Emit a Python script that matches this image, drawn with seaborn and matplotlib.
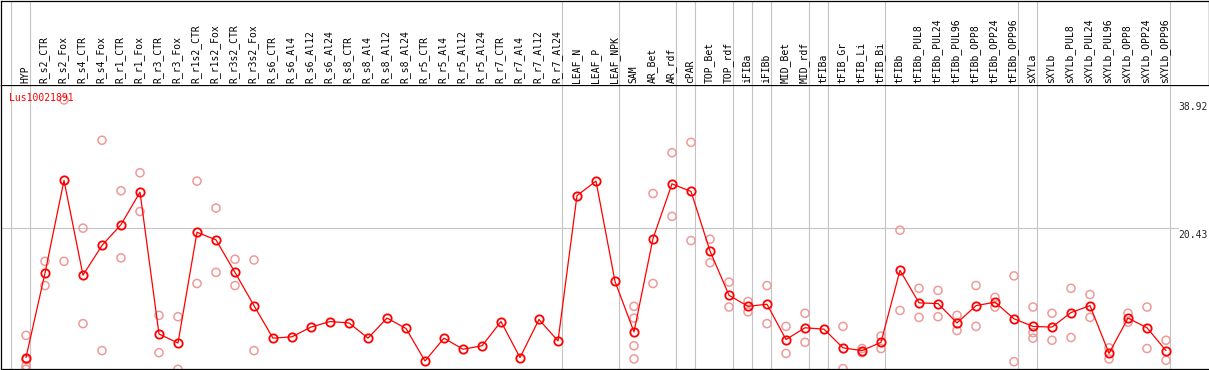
import numpy as np
import pandas as pd
import seaborn as sns
import matplotlib.pyplot as plt

samples = [
    "HYP", "R_s2_CTR", "R_s2_Fox", "R_s4_CTR", "R_s4_Fox", "R_r1_CTR", "R_r1_Fox",
    "R_r3_CTR", "R_r3_Fox", "R_r1s2_CTR", "R_r1s2_Fox", "R_r3s2_CTR", "R_r3s2_Fox",
    "R_s6_CTR", "R_s6_Al4", "R_s6_Al12", "R_s6_Al24", "R_s8_CTR", "R_s8_Al4",
    "R_s8_Al12", "R_s8_Al24", "R_r5_CTR", "R_r5_Al4", "R_r5_Al12", "R_r5_Al24",
    "R_r7_CTR", "R_r7_Al4", "R_r7_Al12", "R_r7_Al24", "LEAF_N", "LEAF_P", "LEAF_NPK",
    "SAM", "AR_Bet", "AR_rdf", "cPAR", "TOP_Bet", "TOP_rdf", "iFIBa", "iFIBb",
    "MID_Bet", "MID_rdf", "tFIBa", "tFIB_Gr", "tFIB_Li", "tFIB_Bi", "tFIBb",
    "tFIBb_PUL8", "tFIBb_PUL24", "tFIBb_PUL96", "tFIBb_OPP8", "tFIBb_OPP24",
    "tFIBb_OPP96", "sXYLa", "sXYLb", "sXYLb_PUL8", "sXYLb_PUL24", "sXYLb_PUL96",
    "sXYLb_OPP8", "sXYLb_OPP24", "sXYLb_OPP96",
]

means = [
    1.7, 13.9, 27.3, 13.6, 17.9, 20.9, 25.6, 5.1, 3.8, 19.8, 18.7, 14.0, 9.2,
    4.5, 4.7, 6.1, 6.9, 6.7, 4.5, 7.4, 5.9, 1.2, 4.5, 2.9, 3.4,
    6.9, 1.7, 7.2, 4.1, 25.1, 27.2, 12.7,
    5.4, 18.9, 26.8, 25.7, 17.1, 10.7, 9.1, 9.4,
    4.3, 6.0, 5.8, 3.1, 2.7, 3.9, 14.3,
    9.6, 9.5, 6.7, 9.2, 9.7,
    7.3, 6.2, 6.1, 8.2, 9.2, 2.3,
    7.4, 6.0, 2.7,
]

replicates = [
    [4.9, 1.4, 0.5, 0.0], [15.6, 12.1], [38.92, 15.6], [20.4, 6.6], [33.1, 2.7],
    [25.8, 16.1], [28.4, 22.8], [7.8, 2.4], [7.6, 0.0], [27.2, 12.4], [23.3, 14.0],
    [15.9, 12.1], [15.8, 2.7],
    [], [], [], [], [], [], [], [], [], [], [], [], [], [], [], [],
    [], [], [],
    [9.1, 7.4, 3.4, 1.5], [25.4, 12.4], [31.3, 22.1], [32.8, 18.6], [18.8, 15.4],
    [12.6, 9.0], [9.8, 8.3], [12.1, 6.6], [6.2, 2.3], [8.1, 3.9], [],
    [6.2, 0.1], [3.0, 2.4], [4.8, 3.0], [20.1, 8.5],
    [11.7, 7.5], [11.4, 7.6], [7.8, 5.6], [12.1, 6.2], [10.4, 9.0], [13.5, 1.1],
    [9.0, 5.3, 4.5], [8.1, 4.2], [11.7, 4.6], [10.8, 7.5], [3.1, 1.5],
    [8.1, 6.8], [9.0, 3.0], [4.2, 1.3],
]

# group separators (index of first sample in each group)
groups = [0, 1, 29, 32, 35, 36, 38, 39, 40, 42, 43, 46, 53, 54, 61]
scale_marks = [38.92, 20.43, 0]
gene = "Lus10021891"

W, H = 1209, 370
X0, DX = 26, 19          # pixel of first column, column step
Y0, DY = 369.3, 6.92     # pixel of value 0, pixels per unit
HEAD = 85                # header height in px

sns.set_style("white")
plt.rcParams["font.family"] = ["DejaVu Sans Mono"]

mean_df = pd.DataFrame({"pos": np.arange(len(samples)), "value": means})
rep_df = pd.DataFrame(
    [(i, v) for i, reps in enumerate(replicates) for v in reps],
    columns=["pos", "value"],
)

fig = plt.figure(figsize=(W / 100, H / 100), dpi=100)
xlim = ((1 - X0) / DX, (W - X0) / DX)

ax = fig.add_axes([1 / W, 1.5 / H, (W - 1) / W, (H - HEAD - 1.5) / H])
ax.set_xlim(*xlim)
ax.set_ylim((Y0 - (H - 1.5)) / DY, (Y0 - HEAD) / DY)

hdr = fig.add_axes([1 / W, (H - HEAD) / H, (W - 1) / W, (HEAD - 0.5) / H])
hdr.set_xlim(*xlim)
hdr.set_ylim(HEAD, 0.5)

grid_col = "#c4c4c4"
for g in groups:
    xg = g - 15 / DX
    ax.axvline(xg, color=grid_col, lw=0.8, zorder=0)
    hdr.axvline(xg, color=grid_col, lw=0.8, zorder=0)

ax.axhline(20.43, xmax=(1178 - 1) / (W - 1), color=grid_col, lw=0.8, zorder=0)

sns.scatterplot(
    data=rep_df, x="pos", y="value", ax=ax,
    marker="o", s=34, fc="none", ec="#ef9a9a", linewidth=1.1,
    clip_on=False, zorder=2, legend=False,
)

sns.lineplot(
    data=mean_df, x="pos", y="value", ax=ax, estimator=None,
    color="red", lw=0.9, marker="o", markersize=6,
    markerfacecolor="none", markeredgecolor="red", markeredgewidth=1.3,
    zorder=3,
)

for i, name in enumerate(samples):
    hdr.text(i - 0.05, 83, name, rotation=90, ha="center", va="bottom",
             fontsize=7, color="black")

ax.text((9.3 - X0) / DX, (Y0 - 97.7) / DY, gene, color="red", fontsize=7,
        ha="left", va="center")

xlab = (1178 - X0) / DX
for v in scale_marks:
    if v == 0:
        ax.annotate("0", (xlab, v), xytext=(0, 3), textcoords="offset points",
                    fontsize=7, ha="left", va="bottom")
    else:
        ax.annotate(f"{v:.2f}", (xlab, v), xytext=(0, -1.5),
                    textcoords="offset points", fontsize=7, ha="left", va="top")

ax.set_xlabel("")
ax.set_ylabel("")
ax.set_xticks([])
ax.set_yticks([])
hdr.set_xticks([])
hdr.set_yticks([])
for s in ["left", "top", "bottom"]:
    ax.spines[s].set_color("black")
    ax.spines[s].set_linewidth(0.9)
ax.spines["right"].set_visible(False)
for s in ["left", "top", "right"]:
    hdr.spines[s].set_color("black")
    hdr.spines[s].set_linewidth(0.9)
hdr.spines["bottom"].set_visible(False)

fig.savefig("out.png", dpi=100)
plt.close(fig)
